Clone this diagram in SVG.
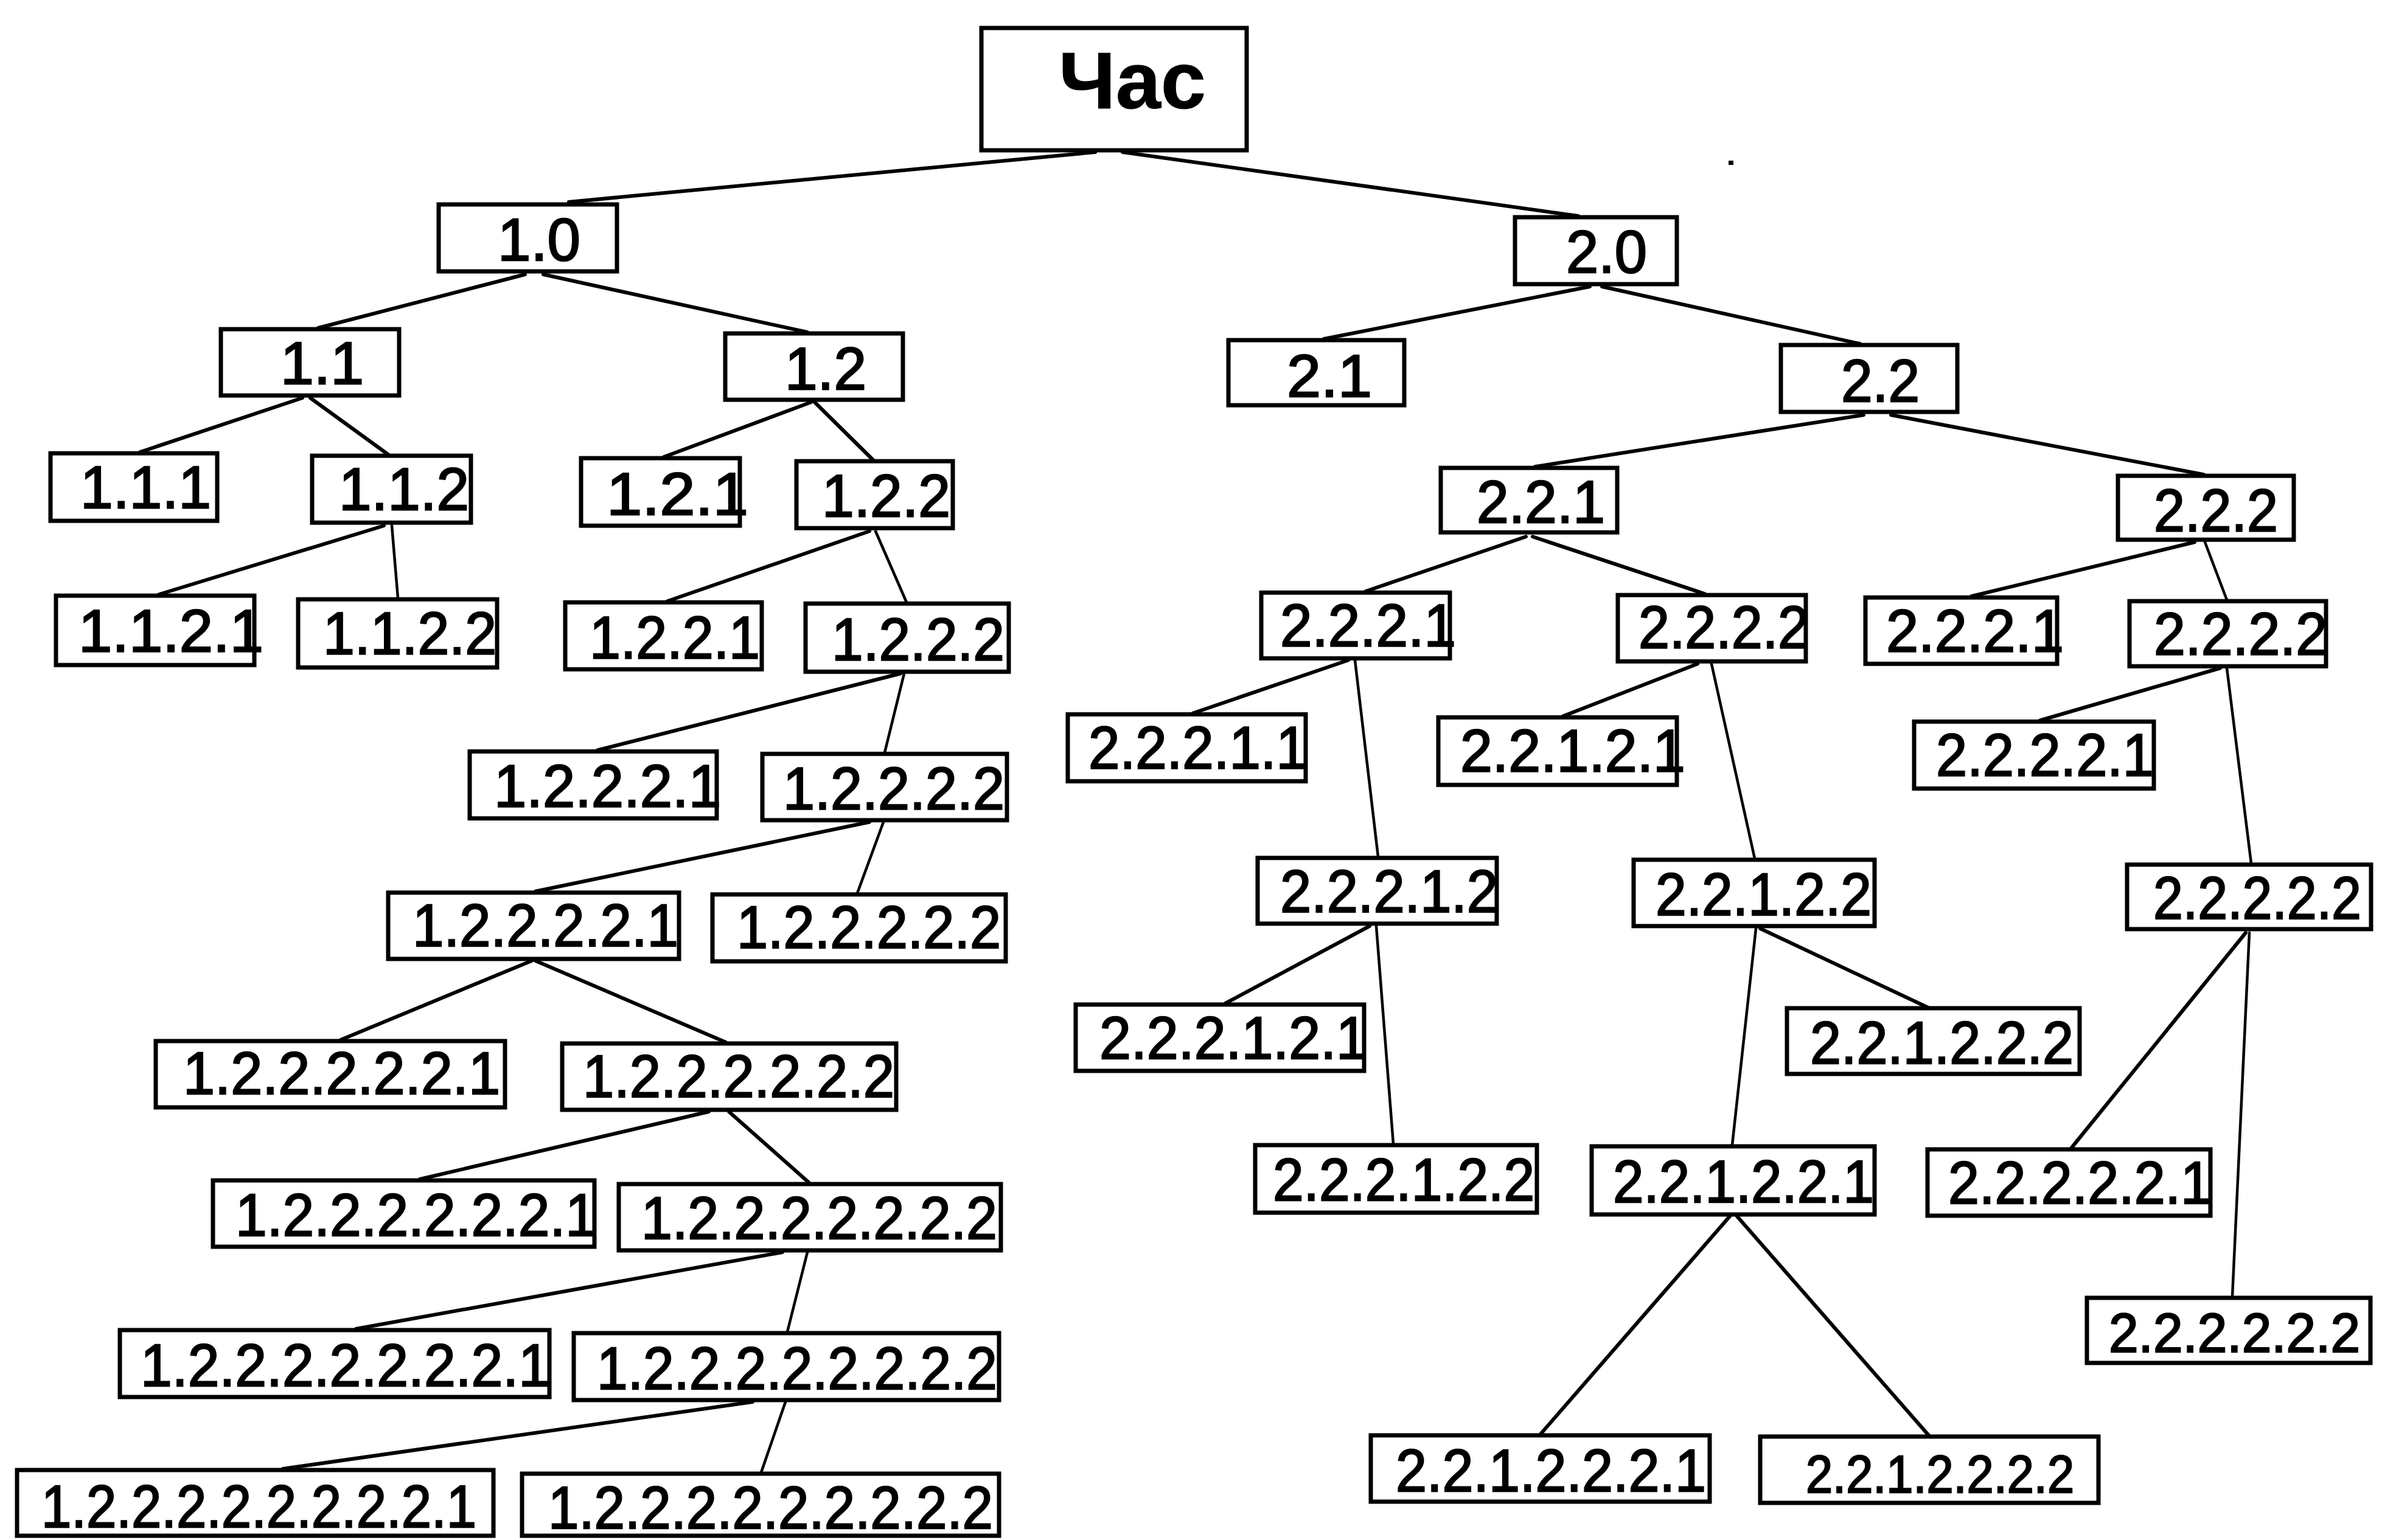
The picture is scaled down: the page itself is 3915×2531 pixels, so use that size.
<svg xmlns="http://www.w3.org/2000/svg" width="3915" height="2531" viewBox="0 0 3915 2531">
  <style>
    .box { fill: #ffffff; stroke: #000000; stroke-width: 7; }
    .lbl { font-family: "Liberation Sans", Arial, Helvetica, sans-serif; font-size: 98px; fill: #000000; stroke: #000000; stroke-width: 2.5; }
    .root { font-size: 132px; font-weight: bold; stroke-width: 1; }
    .small { font-size: 88px; }
    .edge-end { font-size: 90px; }
    .edge { stroke: #000000; stroke-width: 6; stroke-linecap: round; fill: none; }
    .steep { stroke-width: 4.5; }
  </style>
  <rect width="3915" height="2531" fill="#ffffff"/>

  <!-- tree edges: parent bottom -> child top -->
  <g id="connectors">
    <line class="edge" x1="1800" y1="250" x2="935" y2="332"/>
    <line class="edge" x1="1845" y1="250" x2="2594" y2="355"/>
    <line class="edge" x1="863" y1="451" x2="523" y2="539"/>
    <line class="edge" x1="893" y1="451" x2="1327" y2="546"/>
    <line class="edge" x1="497" y1="654" x2="230" y2="743"/>
    <line class="edge" x1="510" y1="654" x2="638" y2="747"/>
    <line class="edge" x1="1333" y1="661" x2="1091" y2="751"/>
    <line class="edge" x1="1339" y1="661" x2="1435" y2="756"/>
    <line class="edge" x1="2613" y1="471" x2="2176" y2="557"/>
    <line class="edge" x1="2633" y1="471" x2="3057" y2="565"/>
    <line class="edge" x1="3063" y1="682" x2="2523" y2="767"/>
    <line class="edge" x1="3108" y1="682" x2="3622" y2="780"/>
    <line class="edge" x1="631" y1="864" x2="261" y2="977"/>
    <line class="edge steep" x1="644" y1="864" x2="654" y2="983"/>
    <line class="edge" x1="1429" y1="873" x2="1097" y2="988"/>
    <line class="edge steep" x1="1439" y1="873" x2="1490" y2="990"/>
    <line class="edge" x1="1480" y1="1107" x2="982" y2="1233"/>
    <line class="edge steep" x1="1486" y1="1107" x2="1454" y2="1237"/>
    <line class="edge" x1="1429" y1="1351" x2="880" y2="1465"/>
    <line class="edge steep" x1="1452" y1="1351" x2="1409" y2="1468"/>
    <line class="edge" x1="874" y1="1579" x2="560" y2="1709"/>
    <line class="edge" x1="880" y1="1579" x2="1193" y2="1713"/>
    <line class="edge" x1="1165" y1="1827" x2="690" y2="1938"/>
    <line class="edge" x1="1198" y1="1827" x2="1330" y2="1944"/>
    <line class="edge" x1="1286" y1="2058" x2="585" y2="2184"/>
    <line class="edge steep" x1="1327" y1="2058" x2="1294" y2="2189"/>
    <line class="edge" x1="1237" y1="2304" x2="465" y2="2414"/>
    <line class="edge steep" x1="1291" y1="2304" x2="1251" y2="2420"/>
    <line class="edge" x1="2508" y1="882" x2="2244" y2="972"/>
    <line class="edge" x1="2519" y1="882" x2="2802" y2="976"/>
    <line class="edge" x1="3607" y1="891" x2="3240" y2="980"/>
    <line class="edge steep" x1="3624" y1="891" x2="3660" y2="986"/>
    <line class="edge" x1="2216" y1="1085" x2="1961" y2="1172"/>
    <line class="edge steep" x1="2227" y1="1085" x2="2265" y2="1408"/>
    <line class="edge" x1="2790" y1="1091" x2="2569" y2="1177"/>
    <line class="edge steep" x1="2813" y1="1091" x2="2884" y2="1411"/>
    <line class="edge" x1="3649" y1="1098" x2="3353" y2="1184"/>
    <line class="edge steep" x1="3660" y1="1098" x2="3700" y2="1419"/>
    <line class="edge" x1="2251" y1="1522" x2="2014" y2="1649"/>
    <line class="edge steep" x1="2262" y1="1522" x2="2290" y2="1880"/>
    <line class="edge steep" x1="2886" y1="1526" x2="2847" y2="1882"/>
    <line class="edge" x1="2893" y1="1526" x2="3169" y2="1656"/>
    <line class="edge" x1="3691" y1="1533" x2="3405" y2="1886"/>
    <line class="edge steep" x1="3697" y1="1533" x2="3669" y2="2131"/>
    <line class="edge" x1="2843" y1="1999" x2="2532" y2="2357"/>
    <line class="edge" x1="2855" y1="1999" x2="3170" y2="2359"/>
  </g>

  <g id="n-root"><rect class="box" x="1613" y="46" width="436" height="201"/><text class="lbl root" x="1740" y="178" textLength="242" lengthAdjust="spacingAndGlyphs">Час</text></g>

  <g id="n-1-0"><rect class="box" x="721" y="336" width="293" height="110"/><text class="lbl" x="818" y="428" textLength="136" lengthAdjust="spacingAndGlyphs">1.0</text></g>
  <g id="n-2-0"><rect class="box" x="2490" y="357" width="266" height="110"/><text class="lbl" x="2574" y="448" textLength="133" lengthAdjust="spacingAndGlyphs">2.0</text></g>

  <g id="n-1-1"><rect class="box" x="363" y="541" width="293" height="109"/><text class="lbl" x="461" y="631" textLength="137" lengthAdjust="spacingAndGlyphs">1.1</text></g>
  <g id="n-1-2"><rect class="box" x="1192" y="548" width="292" height="109"/><text class="lbl" x="1290" y="640" textLength="134" lengthAdjust="spacingAndGlyphs">1.2</text></g>
  <g id="n-2-1"><rect class="box" x="2019" y="559" width="289" height="107"/><text class="lbl" x="2115" y="652" textLength="140" lengthAdjust="spacingAndGlyphs">2.1</text></g>
  <g id="n-2-2"><rect class="box" x="2927" y="567" width="290" height="110"/><text class="lbl" x="3026" y="660" textLength="129" lengthAdjust="spacingAndGlyphs">2.2</text></g>

  <g id="n-1-1-1"><rect class="box" x="83" y="745" width="274" height="111"/><text class="lbl" x="132" y="835" textLength="215" lengthAdjust="spacingAndGlyphs">1.1.1</text></g>
  <g id="n-1-1-2"><rect class="box" x="513" y="749" width="261" height="110"/><text class="lbl" x="557" y="838" textLength="214" lengthAdjust="spacingAndGlyphs">1.1.2</text></g>
  <g id="n-1-2-1"><rect class="box" x="955" y="753" width="261" height="111"/><text class="lbl" x="997" y="846" textLength="233" lengthAdjust="spacingAndGlyphs">1.2.1</text></g>
  <g id="n-1-2-2"><rect class="box" x="1309" y="758" width="257" height="110"/><text class="lbl" x="1351" y="849" textLength="211" lengthAdjust="spacingAndGlyphs">1.2.2</text></g>
  <g id="n-2-2-1"><rect class="box" x="2368" y="769" width="290" height="106"/><text class="lbl" x="2427" y="859" textLength="211" lengthAdjust="spacingAndGlyphs">2.2.1</text></g>
  <g id="n-2-2-2"><rect class="box" x="3481" y="782" width="289" height="105"/><text class="lbl" x="3540" y="873" textLength="204" lengthAdjust="spacingAndGlyphs">2.2.2</text></g>

  <g id="n-1-1-2-1"><rect class="box" x="92" y="979" width="326" height="114"/><text class="lbl" x="129" y="1071" textLength="304" lengthAdjust="spacingAndGlyphs">1.1.2.1</text></g>
  <g id="n-1-1-2-2"><rect class="box" x="490" y="985" width="327" height="112"/><text class="lbl" x="531" y="1075" textLength="285" lengthAdjust="spacingAndGlyphs">1.1.2.2</text></g>
  <g id="n-1-2-2-1"><rect class="box" x="929" y="990" width="323" height="110"/><text class="lbl" x="969" y="1082" textLength="280" lengthAdjust="spacingAndGlyphs">1.2.2.1</text></g>
  <g id="n-1-2-2-2"><rect class="box" x="1324" y="992" width="334" height="112"/><text class="lbl" x="1367" y="1085" textLength="284" lengthAdjust="spacingAndGlyphs">1.2.2.2</text></g>
  <g id="n-2-2-1-a"><rect class="box" x="2073" y="974" width="310" height="108"/><text class="lbl" x="2104" y="1062" textLength="289" lengthAdjust="spacingAndGlyphs">2.2.2.1</text></g>
  <g id="n-2-2-1-b"><rect class="box" x="2659" y="978" width="309" height="109"/><text class="lbl" x="2693" y="1065" textLength="280" lengthAdjust="spacingAndGlyphs">2.2.2.2</text></g>
  <g id="n-2-2-2-a"><rect class="box" x="3066" y="982" width="315" height="109"/><text class="lbl" x="3100" y="1071" textLength="292" lengthAdjust="spacingAndGlyphs">2.2.2.1</text></g>
  <g id="n-2-2-2-b"><rect class="box" x="3500" y="988" width="323" height="107"/><text class="lbl" x="3540" y="1076" textLength="285" lengthAdjust="spacingAndGlyphs">2.2.2.2</text></g>

  <g id="n-1-2-2-2-1"><rect class="box" x="772" y="1235" width="406" height="110"/><text class="lbl" x="812" y="1326" textLength="373" lengthAdjust="spacingAndGlyphs">1.2.2.2.1</text></g>
  <g id="n-1-2-2-2-2"><rect class="box" x="1253" y="1239" width="402" height="109"/><text class="lbl" x="1287" y="1330" textLength="364" lengthAdjust="spacingAndGlyphs">1.2.2.2.2</text></g>
  <g id="n-2-2-1-a-1"><rect class="box" x="1755" y="1174" width="391" height="110"/><text class="lbl" x="1789" y="1263" textLength="360" lengthAdjust="spacingAndGlyphs">2.2.2.1.1</text></g>
  <g id="n-2-2-1-b-1"><rect class="box" x="2364" y="1179" width="392" height="111"/><text class="lbl" x="2400" y="1268" textLength="370" lengthAdjust="spacingAndGlyphs">2.2.1.2.1</text></g>
  <g id="n-2-2-2-b-1"><rect class="box" x="3146" y="1186" width="394" height="110"/><text class="lbl" x="3182" y="1275" textLength="358" lengthAdjust="spacingAndGlyphs">2.2.2.2.1</text></g>

  <g id="n-1-2-2-2-2-1"><rect class="box" x="638" y="1467" width="478" height="109"/><text class="lbl" x="678" y="1555" textLength="437" lengthAdjust="spacingAndGlyphs">1.2.2.2.2.1</text></g>
  <g id="n-1-2-2-2-2-2"><rect class="box" x="1171" y="1470" width="482" height="110"/><text class="lbl" x="1211" y="1558" textLength="434" lengthAdjust="spacingAndGlyphs">1.2.2.2.2.2</text></g>
  <g id="n-2-2-1-a-2"><rect class="box" x="2067" y="1410" width="393" height="108"/><text class="lbl" x="2104" y="1499" textLength="358" lengthAdjust="spacingAndGlyphs">2.2.2.1.2</text></g>
  <g id="n-2-2-1-b-2"><rect class="box" x="2685" y="1413" width="396" height="109"/><text class="lbl" x="2721" y="1504" textLength="355" lengthAdjust="spacingAndGlyphs">2.2.1.2.2</text></g>
  <g id="n-2-2-2-b-2"><rect class="box" x="3496" y="1421" width="401" height="106"/><text class="lbl" x="3539" y="1510" textLength="342" lengthAdjust="spacingAndGlyphs">2.2.2.2.2</text></g>

  <g id="n-2-2-1-a-2-1"><rect class="box" x="1768" y="1651" width="474" height="109"/><text class="lbl" x="1807" y="1740" textLength="441" lengthAdjust="spacingAndGlyphs">2.2.2.1.2.1</text></g>
  <g id="n-2-2-1-b-2-2"><rect class="box" x="2937" y="1657" width="481" height="108"/><text class="lbl" x="2975" y="1748" textLength="433" lengthAdjust="spacingAndGlyphs">2.2.1.2.2.2</text></g>
  <g id="n-1-2-2-2-2-2-1"><rect class="box" x="256" y="1711" width="574" height="109"/><text class="lbl" x="301" y="1798" textLength="521" lengthAdjust="spacingAndGlyphs">1.2.2.2.2.2.1</text></g>
  <g id="n-1-2-2-2-2-2-2"><rect class="box" x="924" y="1715" width="549" height="109"/><text class="lbl" x="958" y="1803" textLength="512" lengthAdjust="spacingAndGlyphs">1.2.2.2.2.2.2</text></g>

  <g id="n-2-2-1-a-2-2"><rect class="box" x="2063" y="1882" width="463" height="111"/><text class="lbl" x="2092" y="1973" textLength="430" lengthAdjust="spacingAndGlyphs">2.2.2.1.2.2</text></g>
  <g id="n-2-2-1-b-2-1"><rect class="box" x="2616" y="1884" width="465" height="112"/><text class="lbl" x="2651" y="1976" textLength="429" lengthAdjust="spacingAndGlyphs">2.2.1.2.2.1</text></g>
  <g id="n-2-2-2-b-2-1"><rect class="box" x="3168" y="1889" width="465" height="109"/><text class="lbl" x="3202" y="1978" textLength="433" lengthAdjust="spacingAndGlyphs">2.2.2.2.2.1</text></g>
  <g id="n-1-2x6-1"><rect class="box" x="350" y="1940" width="627" height="109"/><text class="lbl" x="387" y="2031" textLength="594" lengthAdjust="spacingAndGlyphs">1.2.2.2.2.2.2.1</text></g>
  <g id="n-1-2x6-2"><rect class="box" x="1017" y="1946" width="628" height="109"/><text class="lbl" x="1054" y="2036" textLength="585" lengthAdjust="spacingAndGlyphs">1.2.2.2.2.2.2.2</text></g>

  <g id="n-2-2-2-b-2-2"><rect class="box" x="3430" y="2133" width="466" height="107"/><text class="lbl edge-end" x="3466" y="2222" textLength="413" lengthAdjust="spacingAndGlyphs">2.2.2.2.2.2</text></g>
  <g id="n-1-2x7-1"><rect class="box" x="197" y="2186" width="706" height="110"/><text class="lbl" x="231" y="2278" textLength="673" lengthAdjust="spacingAndGlyphs">1.2.2.2.2.2.2.2.1</text></g>
  <g id="n-1-2x7-2"><rect class="box" x="943" y="2191" width="699" height="110"/><text class="lbl" x="981" y="2283" textLength="658" lengthAdjust="spacingAndGlyphs">1.2.2.2.2.2.2.2.2</text></g>

  <g id="n-2-2-1-b-2-1-1"><rect class="box" x="2253" y="2359" width="557" height="109"/><text class="lbl" x="2294" y="2451" textLength="510" lengthAdjust="spacingAndGlyphs">2.2.1.2.2.2.1</text></g>
  <g id="n-2-2-1-b-2-1-2"><rect class="box" x="2893" y="2361" width="556" height="109"/><text class="lbl small" x="2968" y="2453" textLength="441" lengthAdjust="spacingAndGlyphs">2.2.1.2.2.2.2</text></g>
  <g id="n-1-2x8-1"><rect class="box" x="28" y="2416" width="783" height="108"/><text class="lbl" x="68" y="2510" textLength="715" lengthAdjust="spacingAndGlyphs">1.2.2.2.2.2.2.2.2.1</text></g>
  <g id="n-1-2x8-2"><rect class="box" x="858" y="2422" width="784" height="102"/><text class="lbl" x="901" y="2512" textLength="731" lengthAdjust="spacingAndGlyphs">1.2.2.2.2.2.2.2.2.2</text></g>

  <rect x="2841" y="264" width="8" height="7" fill="#000000"/>
</svg>
